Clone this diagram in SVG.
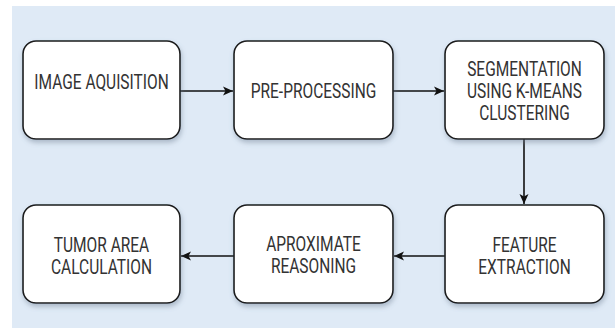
<svg xmlns="http://www.w3.org/2000/svg" width="615" height="331" viewBox="0 0 615 331">
<defs>
<filter id="sh" x="-10%" y="-10%" width="130%" height="140%">
<feDropShadow dx="1" dy="3" stdDeviation="2.5" flood-color="#6a7a90" flood-opacity="0.45"/>
</filter>
<marker id="ah" viewBox="0 0 10 10" refX="10" refY="5" markerWidth="10" markerHeight="10" markerUnits="userSpaceOnUse" orient="auto">
<path d="M0,0.5 L10,5 L0,9.5 L2.5,5 Z" fill="#111"/>
</marker>
</defs>
<style>
.box{fill:#fff;stroke:#1a1a1a;stroke-width:1.6;filter:url(#sh)}
.t{font-family:Roboto,"Liberation Sans",sans-serif;font-size:15.5px;fill:#333;text-anchor:middle}
.c{fill:none;stroke:#111;stroke-width:1.6;marker-end:url(#ah)}
</style>
<rect x="0" y="0" width="615" height="331" fill="#ffffff"/>
<rect x="12" y="6" width="603" height="322" fill="#dfeaf6"/>
<g id="connectors">
<line class="c" x1="180" y1="91" x2="233" y2="91"/>
<line class="c" x1="393" y1="91" x2="444" y2="91"/>
<line class="c" x1="524" y1="139" x2="524" y2="204"/>
<line class="c" x1="445" y1="256" x2="394" y2="256"/>
<line class="c" x1="234" y1="256" x2="181" y2="256"/>
</g>
<g id="n1">
<rect class="box" x="23" y="41" width="157" height="98" rx="13"/>
<text class="t" transform="translate(101.5,89.2) scale(1,1.3)">IMAGE AQUISITION</text>
</g>
<g id="n2">
<rect class="box" x="234" y="41" width="159" height="98" rx="13"/>
<text class="t" transform="translate(313.5,98.2) scale(1,1.3)">PRE-PROCESSING</text>
</g>
<g id="n3">
<rect class="box" x="445" y="41" width="159" height="98" rx="13"/>
<text class="t" transform="translate(524.5,76.2) scale(1,1.3)">SEGMENTATION</text>
<text class="t" transform="translate(524.5,98.2) scale(1,1.3)">USING K-MEANS</text>
<text class="t" transform="translate(524.5,120.2) scale(1,1.3)">CLUSTERING</text>
</g>
<g id="n4">
<rect class="box" x="23" y="205" width="157" height="98" rx="13"/>
<text class="t" transform="translate(101.5,252.2) scale(1,1.3)">TUMOR AREA</text>
<text class="t" transform="translate(101.5,274.2) scale(1,1.3)">CALCULATION</text>
</g>
<g id="n5">
<rect class="box" x="234" y="205" width="159" height="98" rx="13"/>
<text class="t" transform="translate(313.5,251.2) scale(1,1.3)">APROXIMATE</text>
<text class="t" transform="translate(313.5,273.2) scale(1,1.3)">REASONING</text>
</g>
<g id="n6">
<rect class="box" x="445" y="205" width="159" height="98" rx="13"/>
<text class="t" transform="translate(524.5,252.2) scale(1,1.3)">FEATURE</text>
<text class="t" transform="translate(524.5,274.2) scale(1,1.3)">EXTRACTION</text>
</g>
</svg>
